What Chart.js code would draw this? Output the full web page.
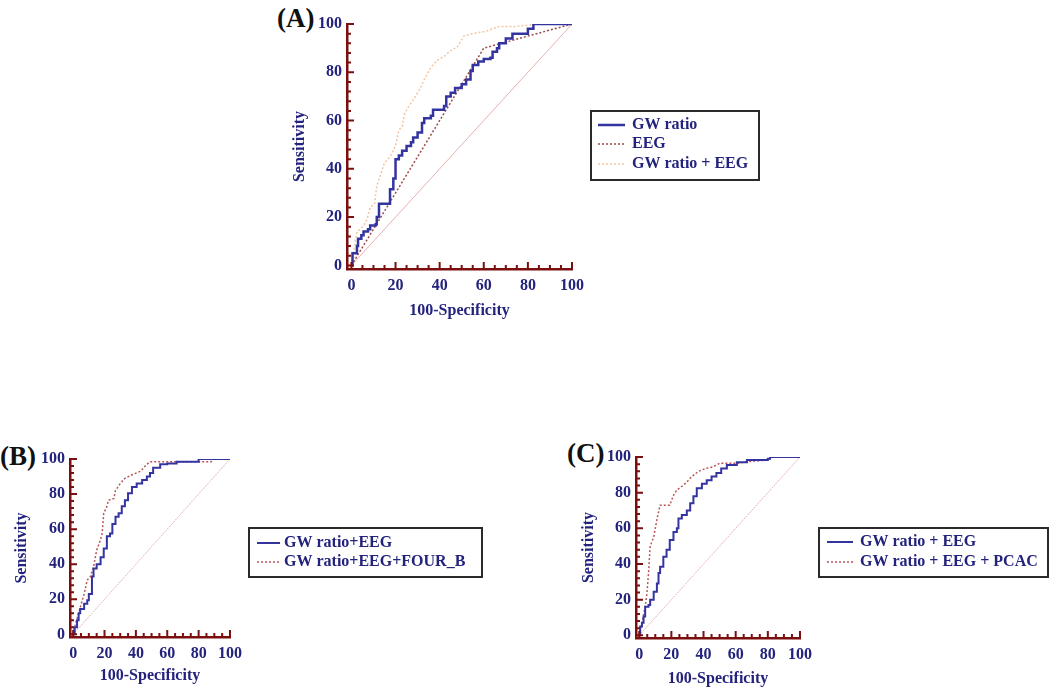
<!DOCTYPE html>
<html>
<head>
<meta charset="utf-8">
<script src="https://cdn.jsdelivr.net/npm/chart.js@4.4.1/dist/chart.umd.min.js"></script>
<style>
  body { margin: 0; background: #fff; width: 1050px; height: 690px; position: relative; overflow: hidden;
         font-family: "Liberation Serif", "Times New Roman", serif; }
  .panel { position: absolute; }
  .tag { position: absolute; font-weight: bold; font-size: 27px; line-height: 27px; color: #111; }
</style>
</head>
<body>
<div class="tag" style="left:277px;top:5px">(A)</div>
<div class="tag" style="left:0px;top:443px">(B)</div>
<div class="tag" style="left:567px;top:440px">(C)</div>

<div class="panel" style="left:270px;top:0px"><canvas id="chartA" width="500" height="330"></canvas></div>
<div class="panel" style="left:0px;top:430px"><canvas id="chartB" width="500" height="260"></canvas></div>
<div class="panel" style="left:570px;top:430px"><canvas id="chartC" width="480" height="260"></canvas></div>

<script>
// ---- data: [100-Specificity, Sensitivity] points ----
const diagonal = [[0, 0], [100, 100]];

// (A)
const aGwRatio = [[0,0],[0.5,5],[2.5,8],[3,11],[4.5,12.5],[5.5,14],[7.5,15],[8.5,16.5],[11,17],[11.5,20],
  [12.5,25.5],[17.5,31.5],[19,36],[20,44],[21.5,45.5],[23,47.5],[25,49.5],[27,51],[28,53],[30,55],[32,59],
  [33,61],[36,62],[37,64.5],[42,66],[43,70],[45,71.5],[47,73.5],[50,75],[52,77],[54,80.5],[55,83],[57.5,84.5],
  [60,85.5],[63,86],[64,88.5],[66,90],[67,92],[70,94],[73,96],[80,98],[82.5,100],[100,100]];
const aEeg = [[0,0],[60,90],[100,100]];
const aGwEeg = [[0,0],[2.5,14],[4,15],[5.5,16.5],[7,19],[8.5,24],[10.5,25.5],[11.5,33],[13,37],[15,42.5],
  [17.5,45],[20,49.5],[21.5,56],[23,57.5],[24,62.5],[26,66],[28,68.5],[31,73],[33,77],[36,82],[39,85],
  [42,86.5],[45,89],[48,90.5],[51,95],[55,96],[61,97],[67,99],[75,99],[84,100],[100,100]];

// (B)
const bGwEeg = [[0,0],[1,4],[2.5,8],[3.5,12],[4.5,14.5],[7,17.5],[9,19.5],[10,23],[12,27],[12,33],[13,37.5],
  [15,40],[17.5,44],[19.5,49],[21.5,56],[23.5,57.5],[25,63],[27,67],[29,69],[31,73],[33,76.5],[35,80.5],
  [37.5,84],[40.5,86],[44,88],[47,90],[49,92],[51,95],[55.5,97],[60,97.5],[66,98.5],[80,100],[100,100]];
const bGwEegFour = [[0,0],[1.5,6],[3.5,12],[5.5,18.5],[7,23],[9,31],[11,33],[13,38.5],[15,48],[17.5,54],
  [18.5,57.5],[19.5,69],[21.5,73],[22.5,76.5],[26,77.5],[27,82],[30,86],[33,89],[37.5,91],[43,93],[47,97],
  [49,98.5],[66,98.5],[88,98.5],[89,100],[100,100]];

// (C)
const cGwEeg = [[0,0],[0.6,5],[1.7,7],[2.7,10.5],[3.7,16],[5.8,17],[6.8,20],[9,24.5],[11,29],[12,35],[13,38.5],
  [15,44],[17,48],[19,53.5],[21.3,58],[23.4,60],[24.4,65.5],[26.5,67.5],[29.6,70],[31.7,74],[33.7,78],
  [35.8,82.5],[39,85],[42,87],[45,89],[48,91],[51,93.5],[54.5,95.5],[60.7,97],[67,98.3],[80,99],[81.4,100],[100,100]];
const cGwEegPcac = [[0,0],[1.7,7],[3.7,16],[4.8,23.5],[5.8,35],[6.8,50],[9,55],[11,65],[13,73],[19,73],
  [21.3,78.5],[23.4,81.5],[26.5,83.5],[29.6,86],[32.7,89],[36.9,92],[41,93.5],[46,94.5],[50,96.5],[60.7,96.5],
  [69,97.5],[80,98.3],[82,100],[100,100]];

const xTickStep = 5;    // minor ticks on 100-Specificity
const yTickStep = 4;    // minor ticks on Sensitivity
const majorStep = 20;   // labelled ticks

const NAVY = '#23237d';
const AXIS = '#7b0f0f';
const BLUE = '#3434a0';

Chart.defaults.font.family = '"Liberation Serif", "Times New Roman", serif';
Chart.defaults.font.weight = 'bold';
Chart.defaults.font.size = 16;
Chart.defaults.color = NAVY;

// small inward ticks, long ones every 20
const innerTicks = {
  id: 'innerTicks',
  afterDraw(chart) {
    const { ctx, chartArea: a, scales: { x, y } } = chart;
    ctx.save();
    ctx.strokeStyle = AXIS;
    ctx.lineWidth = 2;
    ctx.beginPath();
    x.ticks.forEach(t => {
      const px = x.getPixelForValue(t.value);
      const len = t.value % majorStep === 0 ? 7 : 4;
      ctx.moveTo(px, a.bottom);
      ctx.lineTo(px, a.bottom - len);
    });
    y.ticks.forEach(t => {
      const py = y.getPixelForValue(t.value);
      const len = t.value % majorStep === 0 ? 7 : 4;
      ctx.moveTo(a.left, py);
      ctx.lineTo(a.left + len, py);
    });
    ctx.stroke();
    ctx.restore();
  }
};

// framed legend beside the plot
const boxLegend = {
  id: 'boxLegend',
  afterDraw(chart, args, opts) {
    const ctx = chart.ctx;
    ctx.save();
    ctx.strokeStyle = '#2a2a2a';
    ctx.lineWidth = 2;
    ctx.strokeRect(opts.left, opts.top, opts.width, opts.height);
    ctx.font = 'bold 16px "Liberation Serif", "Times New Roman", serif';
    ctx.textBaseline = 'middle';
    ctx.fillStyle = NAVY;
    opts.items.forEach((idx, i) => {
      const ds = chart.data.datasets[idx];
      const yy = opts.rows[i];
      ctx.strokeStyle = ds.borderColor;
      ctx.lineWidth = ds.borderWidth;
      ctx.setLineDash(ds.borderDash || []);
      ctx.beginPath();
      ctx.moveTo(opts.lineFrom, yy);
      ctx.lineTo(opts.lineTo, yy);
      ctx.stroke();
      ctx.setLineDash([]);
      ctx.fillText(ds.label, opts.textX, yy);
    });
    ctx.restore();
  }
};

function tickList(step) {
  const out = [];
  for (let v = 0; v <= 100; v += step) out.push({ value: v });
  return out;
}

function makeScales(yWidth, xHeight) {
  const tickOpts = {
    autoSkip: false, maxRotation: 0, minRotation: 0, color: NAVY,
    font: { size: 16, weight: 'bold' },
    callback: v => (v % majorStep === 0 ? v : '')
  };
  const titleFont = { size: 16, weight: 'bold' };
  return {
    x: {
      type: 'linear', min: -2, max: 100,
      grid: { display: false, drawTicks: false },
      border: { display: true, color: AXIS, width: 2.5 },
      ticks: { ...tickOpts, padding: 7 },
      title: { display: true, text: '100-Specificity', color: NAVY, font: titleFont, padding: 0 },
      afterBuildTicks: s => { s.ticks = tickList(xTickStep); },
      afterFit: s => { s.height = xHeight; }
    },
    y: {
      type: 'linear', min: -1.5, max: 100,
      grid: { display: false, drawTicks: false },
      border: { display: true, color: AXIS, width: 2.5 },
      ticks: { ...tickOpts, padding: 5 },
      title: { display: true, text: 'Sensitivity', color: NAVY, font: titleFont, padding: 0 },
      afterBuildTicks: s => { s.ticks = tickList(yTickStep); },
      afterFit: s => { s.width = yWidth; }
    }
  };
}

function line(label, data, color, width, dash, stepped) {
  return {
    label, data, borderColor: color, borderWidth: width, borderDash: dash,
    stepped: stepped ? 'before' : false, pointRadius: 0, fill: false, tension: 0
  };
}

function makeChart(id, datasets, padding, yWidth, xHeight, legend) {
  return new Chart(document.getElementById(id), {
    type: 'line',
    data: { datasets },
    options: {
      responsive: false,
      animation: false,
      parsing: true,
      layout: { padding },
      scales: makeScales(yWidth, xHeight),
      plugins: { legend: { display: false }, tooltip: { enabled: false }, boxLegend: legend }
    },
    plugins: [innerTicks, boxLegend]
  });
}

makeChart('chartA', [
  line('GW ratio', aGwRatio, BLUE, 2.5, [], true),
  line('EEG', aEeg, '#9a4a4a', 1.5, [2, 2], false),
  line('GW ratio + EEG', aGwEeg, '#f2c6a2', 1.5, [2, 2], false),
  line('ref', diagonal, '#e8b0b0', 1, [], false)
], { left: 20, top: 24, right: 198, bottom: 10 }, 57, 51,
  { left: 321, top: 111, width: 168, height: 69, rows: [125, 144, 164], items: [0, 1, 2], lineFrom: 328, lineTo: 355, textX: 362 });

makeChart('chartB', [
  line('GW ratio+EEG', bGwEeg, BLUE, 2, [], true),
  line('GW ratio+EEG+FOUR_B', bGwEegFour, '#bb5555', 1.5, [2, 2], false),
  line('ref', diagonal, '#eab0b0', 1, [2, 1], false)
], { left: 12, top: 29, right: 270, bottom: 5 }, 58, 48,
  { left: 249, top: 98, width: 233, height: 49, rows: [113, 132], items: [0, 1], lineFrom: 257, lineTo: 280, textX: 284 });

makeChart('chartC', [
  line('GW ratio + EEG', cGwEeg, BLUE, 2, [], true),
  line('GW ratio + EEG + PCAC', cGwEegPcac, '#bb5555', 1.5, [2, 2], false),
  line('ref', diagonal, '#eab0b0', 1, [2, 1], false)
], { left: 9, top: 27, right: 250, bottom: 2 }, 57, 50,
  { left: 249, top: 98, width: 229, height: 49, rows: [112, 132], items: [0, 1], lineFrom: 257, lineTo: 283, textX: 290 });
</script>
</body>
</html>
